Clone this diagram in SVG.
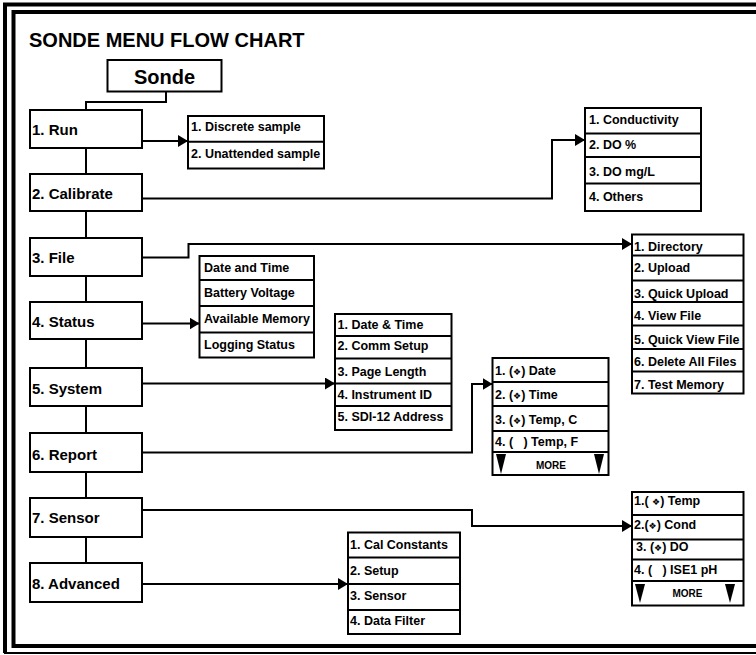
<svg xmlns="http://www.w3.org/2000/svg" width="756" height="655" viewBox="0 0 756 655">
<style>
text{font-family:"Liberation Sans",Arial,Helvetica,sans-serif;font-weight:bold;fill:#000}
.box{fill:#fff;stroke:#000;stroke-width:2}
.dv{stroke:#000;stroke-width:2}
.conn{fill:none;stroke:#000;stroke-width:2}
.frame{fill:none;stroke:#000}
.main{font-size:15px}
.sub{font-size:12.5px}
.more{font-size:10px}
.sym{font-family:"DejaVu Sans",sans-serif;font-size:9px;font-weight:normal}
.tri{fill:#000}
</style>
<defs>
<marker id="ah" markerUnits="userSpaceOnUse" markerWidth="10" markerHeight="12" refX="10" refY="6" orient="auto">
<path d="M0,0 L10,6 L0,12 Z" fill="#000"/>
</marker>
</defs>
<rect x="0" y="0" width="756" height="655" fill="#fff"/>
<g id="frame">
<path class="frame" d="M756,4.5 H5 V653" stroke-width="4"/>
<line x1="4" y1="653" x2="756" y2="653" stroke="#000" stroke-width="1.8"/>
<path class="frame" d="M756,12 H13.5 V646 H756" stroke-width="4"/>
</g>
<text id="title" x="29" y="47" font-size="20">SONDE MENU FLOW CHART</text>
<g id="connectors">
<path class="conn" d="M166,91.5 V102 H86 V110"/>
<line class="conn" x1="86" y1="148" x2="86" y2="563"/>
<path class="conn" d="M142,141 H188" marker-end="url(#ah)"/>
<path class="conn" d="M142,198.5 H552 V140 H585" marker-end="url(#ah)"/>
<path class="conn" d="M142,257.5 H188.5 V244 H632" marker-end="url(#ah)"/>
<path class="conn" d="M142,323.5 H199.5" marker-end="url(#ah)"/>
<path class="conn" d="M142,383.5 H335" marker-end="url(#ah)"/>
<path class="conn" d="M142,452.5 H472 V384 H492.5" marker-end="url(#ah)"/>
<path class="conn" d="M142,510 H472 V526 H632" marker-end="url(#ah)"/>
<path class="conn" d="M142,584 H348" marker-end="url(#ah)"/>
</g>
<g id="sonde">
<rect class="box" x="107.5" y="60" width="114" height="31.5"/>
<text x="164.5" y="84" font-size="20" text-anchor="middle">Sonde</text>
</g>
<g id="run"><rect class="box" x="30" y="110" width="112" height="38"/><text class="main" x="32" y="135">1. Run</text></g>
<g id="calibrate"><rect class="box" x="30" y="174" width="112" height="37"/><text class="main" x="32" y="199">2. Calibrate</text></g>
<g id="file"><rect class="box" x="30" y="238" width="112" height="38"/><text class="main" x="32" y="263">3. File</text></g>
<g id="status"><rect class="box" x="30" y="302" width="112" height="37"/><text class="main" x="32" y="327">4. Status</text></g>
<g id="system"><rect class="box" x="30" y="368" width="112" height="38"/><text class="main" x="32" y="394">5. System</text></g>
<g id="report"><rect class="box" x="30" y="433" width="112" height="39"/><text class="main" x="32" y="460">6. Report</text></g>
<g id="sensor"><rect class="box" x="30" y="498" width="112" height="39"/><text class="main" x="32" y="523">7. Sensor</text></g>
<g id="advanced"><rect class="box" x="30" y="563" width="112" height="39"/><text class="main" x="32" y="589">8. Advanced</text></g>

<g id="run-menu">
<rect class="box" x="188" y="116" width="136" height="52.5"/>
<line class="dv" x1="188" y1="141.7" x2="324" y2="141.7"/>
<text class="sub" x="191" y="131">1. Discrete sample</text>
<text class="sub" x="191" y="158">2. Unattended sample</text>
</g>
<g id="calibrate-menu">
<rect class="box" x="585" y="108" width="116" height="103"/>
<line class="dv" x1="585" y1="133.5" x2="701" y2="133.5"/>
<line class="dv" x1="585" y1="157" x2="701" y2="157"/>
<line class="dv" x1="585" y1="183.5" x2="701" y2="183.5"/>
<text class="sub" x="589" y="124">1. Conductivity</text>
<text class="sub" x="589" y="149">2. DO %</text>
<text class="sub" x="589" y="176">3. DO mg/L</text>
<text class="sub" x="589" y="201">4. Others</text>
</g>
<g id="file-menu">
<rect class="box" x="632" y="234.5" width="111.5" height="159"/>
<line class="dv" x1="632" y1="255.5" x2="743.5" y2="255.5"/>
<line class="dv" x1="632" y1="280.5" x2="743.5" y2="280.5"/>
<line class="dv" x1="632" y1="302" x2="743.5" y2="302"/>
<line class="dv" x1="632" y1="325.5" x2="743.5" y2="325.5"/>
<line class="dv" x1="632" y1="349" x2="743.5" y2="349"/>
<line class="dv" x1="632" y1="371.5" x2="743.5" y2="371.5"/>
<text class="sub" x="634" y="251">1. Directory</text>
<text class="sub" x="634" y="272">2. Upload</text>
<text class="sub" x="634" y="298">3. Quick Upload</text>
<text class="sub" x="634" y="319.5">4. View File</text>
<text class="sub" x="634" y="343.5">5. Quick View File</text>
<text class="sub" x="634" y="366">6. Delete All Files</text>
<text class="sub" x="634" y="388.5">7. Test Memory</text>
</g>
<g id="status-menu">
<rect class="box" x="199.5" y="256" width="114.5" height="101.5"/>
<line class="dv" x1="199.5" y1="280" x2="314" y2="280"/>
<line class="dv" x1="199.5" y1="306" x2="314" y2="306"/>
<line class="dv" x1="199.5" y1="332.5" x2="314" y2="332.5"/>
<text class="sub" x="204" y="272">Date and Time</text>
<text class="sub" x="204" y="297">Battery Voltage</text>
<text class="sub" x="204" y="323">Available Memory</text>
<text class="sub" x="204" y="348.5">Logging Status</text>
</g>
<g id="system-menu">
<rect class="box" x="335" y="314" width="116.5" height="116"/>
<line class="dv" x1="335" y1="336" x2="451.5" y2="336"/>
<line class="dv" x1="335" y1="358.5" x2="451.5" y2="358.5"/>
<line class="dv" x1="335" y1="383.5" x2="451.5" y2="383.5"/>
<line class="dv" x1="335" y1="406" x2="451.5" y2="406"/>
<text class="sub" x="337.5" y="328.5">1. Date &amp; Time</text>
<text class="sub" x="337.5" y="350">2. Comm Setup</text>
<text class="sub" x="337.5" y="376">3. Page Length</text>
<text class="sub" x="337.5" y="398.5">4. Instrument ID</text>
<text class="sub" x="337.5" y="421">5. SDI-12 Address</text>
</g>
<g id="report-menu">
<rect class="box" x="492.5" y="358" width="116" height="117"/>
<line class="dv" x1="492.5" y1="382" x2="608.5" y2="382"/>
<line class="dv" x1="492.5" y1="406" x2="608.5" y2="406"/>
<line class="dv" x1="492.5" y1="431" x2="608.5" y2="431"/>
<line class="dv" x1="492.5" y1="452" x2="608.5" y2="452"/>
<text class="sub" x="495" y="375">1. (<tspan class="sym">❖</tspan>) Date</text>
<text class="sub" x="495" y="399">2. (<tspan class="sym">❖</tspan>) Time</text>
<text class="sub" x="495" y="424">3. (<tspan class="sym">❖</tspan>) Temp, C</text>
<text class="sub" x="495" y="446">4. (&#160;&#160;&#160;) Temp, F</text>
<path class="tri" d="M496,454 H506 L501,474 Z"/>
<path class="tri" d="M594,454 H604 L599,474 Z"/>
<text class="more" x="551" y="469" text-anchor="middle">MORE</text>
</g>
<g id="sensor-menu">
<rect class="box" x="632" y="492" width="111.5" height="113.5"/>
<line class="dv" x1="632" y1="515" x2="743.5" y2="515"/>
<line class="dv" x1="632" y1="539.5" x2="743.5" y2="539.5"/>
<line class="dv" x1="632" y1="559.5" x2="743.5" y2="559.5"/>
<line class="dv" x1="632" y1="581" x2="743.5" y2="581"/>
<text class="sub" x="634" y="504.5">1.( <tspan class="sym">❖</tspan>) Temp</text>
<text class="sub" x="634" y="528.5">2.(<tspan class="sym">❖</tspan>) Cond</text>
<text class="sub" x="636" y="551">3. (<tspan class="sym">❖</tspan>) DO</text>
<text class="sub" x="634" y="573.5">4. (&#160;&#160;&#160;) ISE1 pH</text>
<path class="tri" d="M635,584 H645 L640,603 Z"/>
<path class="tri" d="M725,584 H735 L730,603 Z"/>
<text class="more" x="687.5" y="597" text-anchor="middle">MORE</text>
</g>
<g id="advanced-menu">
<rect class="box" x="348" y="532.5" width="112" height="101.5"/>
<line class="dv" x1="348" y1="557.5" x2="460" y2="557.5"/>
<line class="dv" x1="348" y1="584" x2="460" y2="584"/>
<line class="dv" x1="348" y1="610" x2="460" y2="610"/>
<text class="sub" x="350" y="549">1. Cal Constants</text>
<text class="sub" x="350" y="575">2. Setup</text>
<text class="sub" x="350" y="599.5">3. Sensor</text>
<text class="sub" x="350" y="625">4. Data Filter</text>
</g>
</svg>
